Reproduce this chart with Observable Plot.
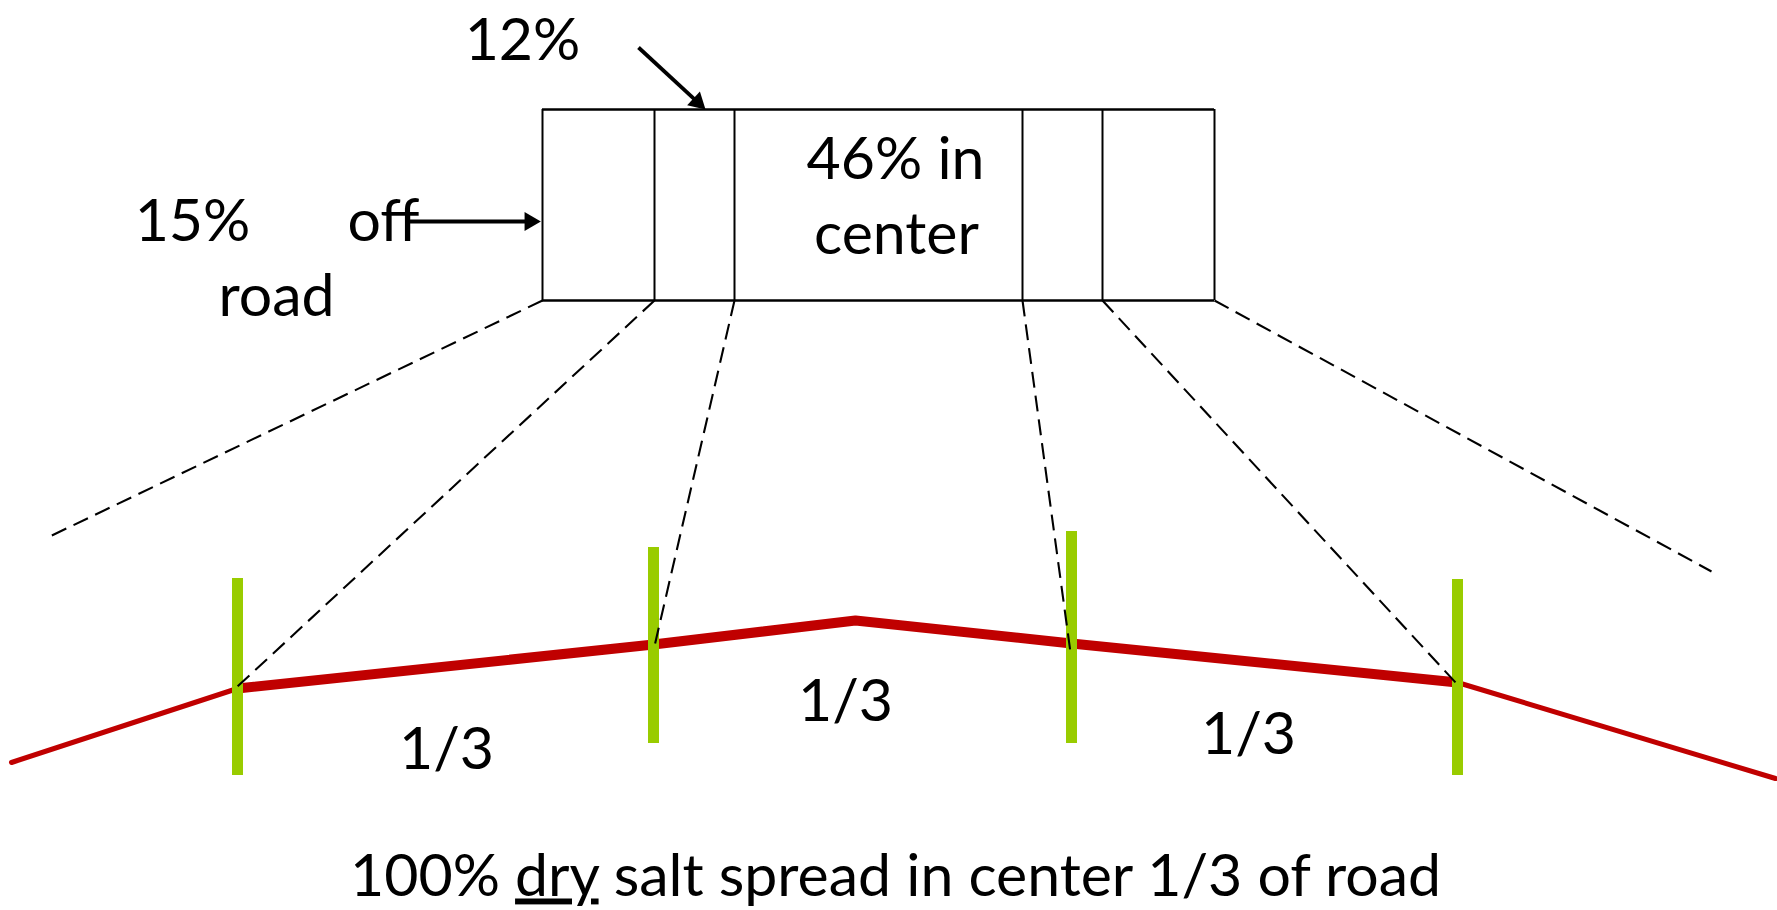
<!DOCTYPE html>
<html>
<head>
<meta charset="utf-8">
<script src="https://cdn.jsdelivr.net/npm/d3@7"></script>
<script src="https://cdn.jsdelivr.net/npm/@observablehq/plot@0.6"></script>
<style>
  html, body { margin: 0; padding: 0; background: #ffffff; }
  #chart { width: 1777px; height: 910px; overflow: hidden; }
</style>
</head>
<body>
<div id="chart"></div>
<script>
// ---- Diagram data (diagram units, 1 unit = 1 px of the reference) ----
const boxEdgesX = [542, 654, 734, 1022, 1102, 1214];
const boxTopY = 109;
const boxBottomY = 300;

// where each dashed projection line from the box lands on the road
const projectionEndX = [45, 237, 653, 1070, 1456, 1711];
const projectionEndY = [538, 686, 650, 652, 683, 571];

// road profile (crown)
const roadLeftX = [11, 237];
const roadLeftY = [762, 688];
const roadCenterX = [237, 653, 855, 1071, 1457];
const roadCenterY = [688, 644, 620, 643, 682];
const roadRightX = [1457, 1775];
const roadRightY = [682, 778];

// green markers dividing the road into thirds
const markerX = [237, 653, 1071, 1457];
const markerTopY = [578, 547, 531, 579];
const markerBottomY = [775, 743, 743, 775];

// arrows
const arrowFromX = [638, 407];
const arrowFromY = [47, 221];
const arrowToX = [704, 539];
const arrowToY = [108, 221];

// text labels
const labelText = ["12%", "46% in", "center", "15%", "off", "road", "1/3", "1/3", "1/3"];
const labelX = [522, 895, 896, 192, 383, 276, 446, 845, 1248];
const labelY = [59, 178, 253, 240, 240, 315, 768, 720, 753];

const captionParts = ["100% ", "dry", " salt spread in center 1/3 of road"];
const captionX = 895;
const captionY = 895;

// ---- build tables ----
const W = 1777, H = 910;
const projections = boxEdgesX.map((x, i) => ({x1: x, y1: boxBottomY, x2: projectionEndX[i], y2: projectionEndY[i]}));
const road = (xs, ys) => xs.map((x, i) => ({x, y: ys[i]}));
const markers = markerX.map((x, i) => ({x, y1: markerTopY[i], y2: markerBottomY[i]}));
const arrows = arrowFromX.map((x, i) => {
  const dx = arrowToX[i] - x, dy = arrowToY[i] - arrowFromY[i];
  const len = Math.hypot(dx, dy), ux = dx / len, uy = dy / len;
  const back = 9.5; // centroid of triangle head behind the tip
  return {
    x1: x, y1: arrowFromY[i],
    x2: arrowToX[i] - ux * back * 1.3, y2: arrowToY[i] - uy * back * 1.3,
    hx: arrowToX[i] - ux * back, hy: arrowToY[i] - uy * back,
    angle: Math.atan2(dy, dx) * 180 / Math.PI + 90
  };
});
const labels = labelText.map((t, i) => ({t, x: labelX[i], y: labelY[i]}));

const font = "Lato, 'Open Sans', sans-serif";
const fs = 59;

const plot = Plot.plot({
  width: W,
  height: H,
  margin: 0,
  x: {domain: [0, W], axis: null},
  y: {domain: [0, H], reverse: true, axis: null},
  style: {background: "#ffffff", fontFamily: font},
  marks: [
    // box
    Plot.ruleY([boxTopY, boxBottomY], {x1: boxEdgesX[0], x2: boxEdgesX[boxEdgesX.length - 1], stroke: "#000", strokeWidth: 2.6}),
    Plot.ruleX(boxEdgesX, {y1: boxTopY, y2: boxBottomY, stroke: "#000", strokeWidth: 2}),
    // road
    Plot.line(road(roadLeftX, roadLeftY), {x: "x", y: "y", stroke: "#C00000", strokeWidth: 5}),
    Plot.line(road(roadRightX, roadRightY), {x: "x", y: "y", stroke: "#C00000", strokeWidth: 5}),
    Plot.line(road(roadCenterX, roadCenterY), {x: "x", y: "y", stroke: "#C00000", strokeWidth: 10, strokeLinejoin: "miter"}),
    // markers
    Plot.ruleX(markers, {x: "x", y1: "y1", y2: "y2", stroke: "#99CC00", strokeWidth: 11}),
    // projections
    Plot.link(projections, {x1: "x1", y1: "y1", x2: "x2", y2: "y2", stroke: "#000", strokeWidth: 2.1, strokeDasharray: "16,8"}),
    // labels
    Plot.text(labels, {x: "x", y: "y", text: "t", fontSize: fs, fill: "#000", lineAnchor: "bottom", textAnchor: "middle"}),
    Plot.text([captionParts.join("")], {x: captionX, y: captionY, text: d => d, fontSize: fs, fill: "#000", lineAnchor: "bottom", textAnchor: "middle"}),
    // arrows
    Plot.link(arrows, {x1: "x1", y1: "y1", x2: "x2", y2: "y2", stroke: "#000", strokeWidth: 3.8}),
    Plot.dot(arrows, {x: "hx", y: "hy", symbol: "triangle", r: 7, rotate: "angle", fill: "#000", stroke: "none"})
  ]
});

// underline "dry" in the caption
d3.select(plot).selectAll("text").filter(function () { return this.textContent === captionParts.join(""); })
  .each(function () {
    const t = d3.select(this);
    t.text(null);
    captionParts.forEach((p, i) => {
      const s = t.append("tspan").text(p);
      if (i === 1) s.style("text-decoration", "underline");
    });
    t.style("white-space", "pre");
  });

document.getElementById("chart").appendChild(plot);
</script>
</body>
</html>
